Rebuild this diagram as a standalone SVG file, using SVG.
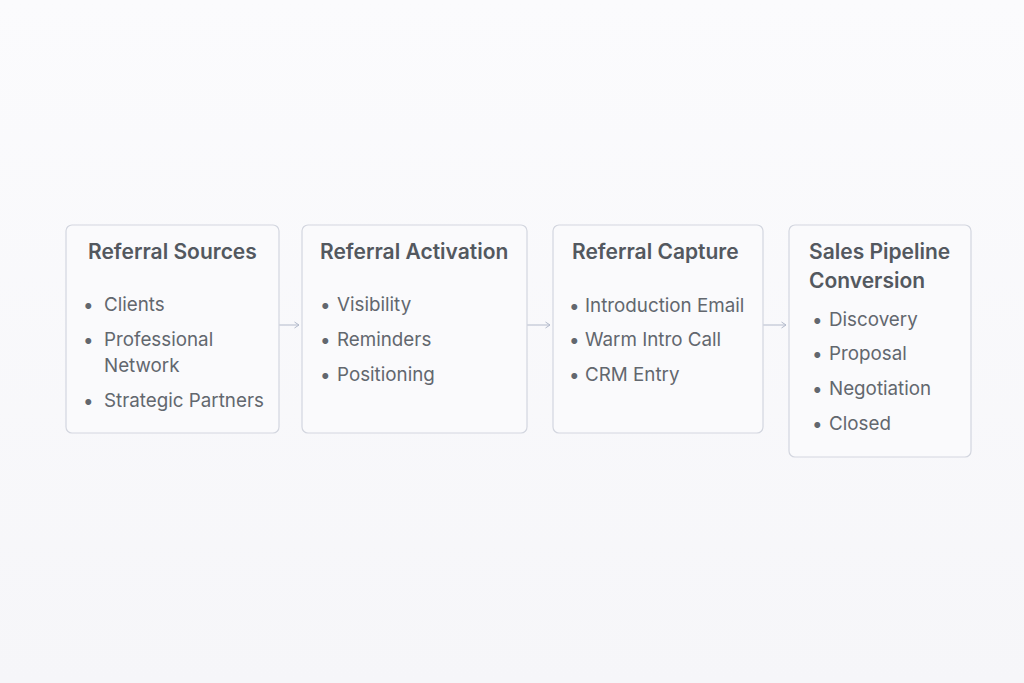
<svg xmlns="http://www.w3.org/2000/svg" width="1024" height="683" viewBox="0 0 1024 683">
<defs>
<linearGradient id="bg" x1="0" y1="0" x2="0" y2="1">
<stop offset="0" stop-color="#fbfbfd"/>
<stop offset="1" stop-color="#f6f6f9"/>
</linearGradient>
<marker id="ah" markerWidth="8" markerHeight="8" refX="6" refY="4" orient="auto" markerUnits="userSpaceOnUse">
<path d="M1.5,1 L6,4 L1.5,7" fill="none" stroke="#b3bacb" stroke-width="1"/>
</marker>
<style>
.box{fill:#fafafc;stroke:#d3d6df;stroke-width:1.2}
.t{font-family:Inter,"Noto Sans",sans-serif;font-size:21px;font-weight:600;fill:#53585f}
.i{font-family:Inter,"Noto Sans",sans-serif;font-size:18.8px;font-weight:400;fill:#62676e}
.c{stroke:#b3bacb;stroke-width:1;fill:none}
</style>
</defs>
<rect width="1024" height="683" fill="url(#bg)"/>
<g id="connectors">
<line class="c" x1="279" y1="325" x2="299" y2="325" marker-end="url(#ah)"/>
<line class="c" x1="527" y1="325" x2="550" y2="325" marker-end="url(#ah)"/>
<line class="c" x1="763" y1="325" x2="786" y2="325" marker-end="url(#ah)"/>
</g>
<g id="referral-sources">
<rect class="box" x="66" y="225" width="213" height="208" rx="6"/>
<text class="t" x="88" y="259">Referral Sources</text>
<text class="i" x="83" y="311">•</text><text class="i" x="104" y="311">Clients</text>
<text class="i" x="83" y="346">•</text><text class="i" x="104" y="346">Professional</text>
<text class="i" x="104" y="372">Network</text>
<text class="i" x="83" y="407">•</text><text class="i" x="104" y="407">Strategic Partners</text>
</g>
<g id="referral-activation">
<rect class="box" x="302" y="225" width="225" height="208" rx="6"/>
<text class="t" x="320" y="259">Referral Activation</text>
<text class="i" x="320" y="311">•</text><text class="i" x="337" y="311">Visibility</text>
<text class="i" x="320" y="346">•</text><text class="i" x="337" y="346">Reminders</text>
<text class="i" x="320" y="381">•</text><text class="i" x="337" y="381">Positioning</text>
</g>
<g id="referral-capture">
<rect class="box" x="553" y="225" width="210" height="208" rx="6"/>
<text class="t" x="572" y="259">Referral Capture</text>
<text class="i" x="569" y="312">•</text><text class="i" x="585" y="312">Introduction Email</text>
<text class="i" x="569" y="346">•</text><text class="i" x="585" y="346">Warm Intro Call</text>
<text class="i" x="569" y="381">•</text><text class="i" x="585" y="381">CRM Entry</text>
</g>
<g id="sales-pipeline-conversion">
<rect class="box" x="789" y="225" width="182" height="232" rx="6"/>
<text class="t" x="809" y="259">Sales Pipeline</text>
<text class="t" x="809" y="288">Conversion</text>
<text class="i" x="812" y="326">•</text><text class="i" x="829" y="326">Discovery</text>
<text class="i" x="812" y="360">•</text><text class="i" x="829" y="360">Proposal</text>
<text class="i" x="812" y="395">•</text><text class="i" x="829" y="395">Negotiation</text>
<text class="i" x="812" y="430">•</text><text class="i" x="829" y="430">Closed</text>
</g>
</svg>
